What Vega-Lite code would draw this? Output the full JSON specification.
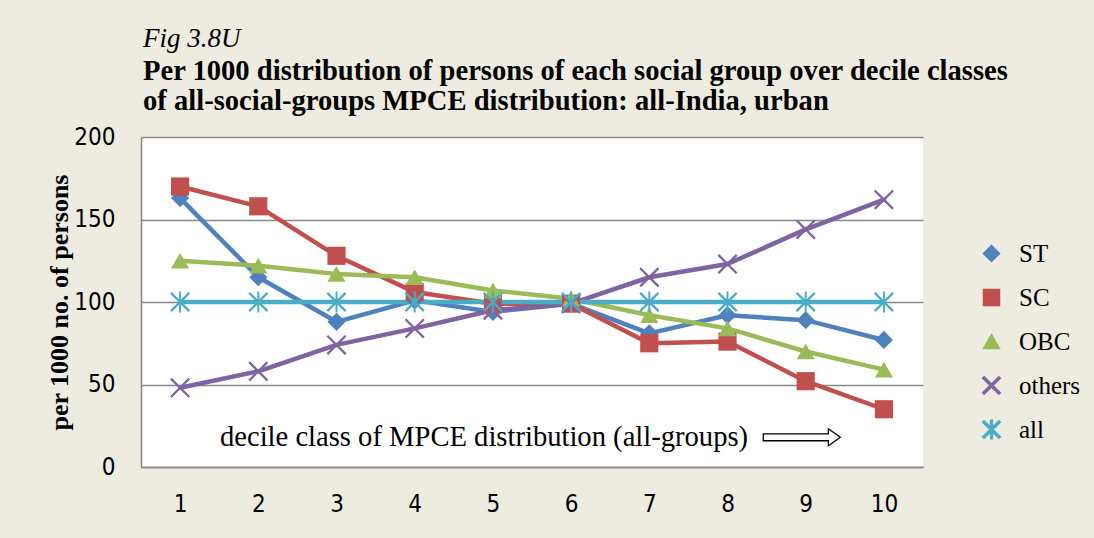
{
  "$schema": "https://vega.github.io/schema/vega-lite/v6.json",
  "width": 782,
  "height": 330,
  "autosize": {"type": "none"},
  "padding": {"left": 141, "top": 137, "right": 171, "bottom": 71},
  "background": "#EEECE1",
  "title": {
    "text": "Fig 3.8U",
    "subtitle": ["Per 1000 distribution of persons of each social group over decile classes", "of all-social-groups MPCE distribution: all-India, urban"],
    "anchor": "start",
    "frame": "group",
    "font": "Liberation Serif",
    "fontSize": 27,
    "fontStyle": "italic",
    "fontWeight": "normal",
    "color": "black",
    "subtitleFont": "Liberation Serif",
    "subtitleFontSize": 28.6,
    "subtitleFontWeight": "bold",
    "subtitleColor": "black",
    "subtitleLineHeight": 30,
    "subtitlePadding": 4,
    "offset": 8,
    "dx": 2
  },
  "config": {
    "view": {"fill": "white", "stroke": null},
    "axis": {
      "labelFont": "Liberation Sans Narrow, DejaVu Sans Condensed",
      "labelFontSize": 24,
      "labelColor": "black",
      "ticks": false,
      "domainColor": "#878787",
      "domainWidth": 1.5,
      "gridColor": "#878787",
      "gridWidth": 1.5
    },
    "legend": {
      "title": null, "orient": "none", "legendX": 838, "legendY": 104,
      "labelFont": "Liberation Serif", "labelFontSize": 25, "labelColor": "black",
      "labelOffset": 15, "rowPadding": 18, "symbolSize": 256, "padding": 0
    }
  },
  "datasets": {
    "series": [
      {"decile": 1, "group": "ST", "value": 163}, {"decile": 2, "group": "ST", "value": 115}, {"decile": 3, "group": "ST", "value": 88}, {"decile": 4, "group": "ST", "value": 101}, {"decile": 5, "group": "ST", "value": 94}, {"decile": 6, "group": "ST", "value": 99}, {"decile": 7, "group": "ST", "value": 81}, {"decile": 8, "group": "ST", "value": 92}, {"decile": 9, "group": "ST", "value": 89}, {"decile": 10, "group": "ST", "value": 77},
      {"decile": 1, "group": "SC", "value": 170}, {"decile": 2, "group": "SC", "value": 158}, {"decile": 3, "group": "SC", "value": 128}, {"decile": 4, "group": "SC", "value": 106}, {"decile": 5, "group": "SC", "value": 99}, {"decile": 6, "group": "SC", "value": 99}, {"decile": 7, "group": "SC", "value": 75}, {"decile": 8, "group": "SC", "value": 76}, {"decile": 9, "group": "SC", "value": 52}, {"decile": 10, "group": "SC", "value": 35},
      {"decile": 1, "group": "OBC", "value": 125}, {"decile": 2, "group": "OBC", "value": 122}, {"decile": 3, "group": "OBC", "value": 117}, {"decile": 4, "group": "OBC", "value": 115}, {"decile": 5, "group": "OBC", "value": 107}, {"decile": 6, "group": "OBC", "value": 102}, {"decile": 7, "group": "OBC", "value": 92}, {"decile": 8, "group": "OBC", "value": 84}, {"decile": 9, "group": "OBC", "value": 70}, {"decile": 10, "group": "OBC", "value": 59},
      {"decile": 1, "group": "others", "value": 48}, {"decile": 2, "group": "others", "value": 58}, {"decile": 3, "group": "others", "value": 74}, {"decile": 4, "group": "others", "value": 84}, {"decile": 5, "group": "others", "value": 95}, {"decile": 6, "group": "others", "value": 99}, {"decile": 7, "group": "others", "value": 115}, {"decile": 8, "group": "others", "value": 123}, {"decile": 9, "group": "others", "value": 144}, {"decile": 10, "group": "others", "value": 162},
      {"decile": 1, "group": "all", "value": 100}, {"decile": 2, "group": "all", "value": 100}, {"decile": 3, "group": "all", "value": 100}, {"decile": 4, "group": "all", "value": 100}, {"decile": 5, "group": "all", "value": 100}, {"decile": 6, "group": "all", "value": 100}, {"decile": 7, "group": "all", "value": 100}, {"decile": 8, "group": "all", "value": 100}, {"decile": 9, "group": "all", "value": 100}, {"decile": 10, "group": "all", "value": 100}
    ]
  },
  "layer": [
    {
      "data": {"name": "series"},
      "mark": {"type": "line", "strokeWidth": 4.5, "strokeCap": "round", "strokeJoin": "round"},
      "encoding": {
        "x": {"field": "decile", "type": "quantitative", "scale": {"domain": [0.5, 10.5], "nice": false, "zero": false},
              "axis": {"values": [1,2,3,4,5,6,7,8,9,10], "title": null, "grid": false, "labelPadding": 25, "format": "d"}},
        "y": {"field": "value", "type": "quantitative", "scale": {"domain": [0, 200], "nice": false},
              "axis": {"values": [0, 50, 100, 150, 200], "title": "per 1000 no. of persons", "titleFont": "Liberation Serif", "titleFontSize": 26, "titleFontWeight": "bold", "titleColor": "black", "titlePadding": 1, "labelPadding": 26, "grid": true}},
        "color": {"field": "group", "type": "nominal",
                  "scale": {"domain": ["ST", "SC", "OBC", "others", "all"], "range": ["#4F81BD", "#C0504D", "#9BBB59", "#8064A2", "#4BACC6"]}}
      }
    },
    {
      "data": {"name": "series"},
      "mark": {"type": "point", "filled": true, "opacity": 1, "size": 330},
      "encoding": {
        "x": {"field": "decile", "type": "quantitative"},
        "y": {"field": "value", "type": "quantitative"},
        "color": {"field": "group", "type": "nominal",
                  "legend": {
                    "encode": {"symbols": {
                      "shape": {"value": {"expr": "datum.value === 'ST' ? 'M-3.4,-0.3H3.4V0.3H-3.4ZM0,-1L1,0L0,1L-1,0Z' : datum.value === 'SC' ? 'M-3.4,-0.3H3.4V0.3H-3.4ZM-1.05,-1.05H1.05V1.05H-1.05Z' : datum.value === 'OBC' ? 'M-3.4,-0.3H3.4V0.3H-3.4ZM0,-1L1.1,0.85L-1.1,0.85Z' : datum.value === 'others' ? 'M-3.4,-0.3H3.4V0.3H-3.4ZM-1,-0.82L-0.82,-1L1,0.82L0.82,1ZM1,-0.82L-0.82,1L-1,0.82L0.82,-1Z' : 'M-3.4,-0.3H3.4V0.3H-3.4ZM-1,-0.82L-0.82,-1L1,0.82L0.82,1ZM1,-0.82L-0.82,1L-1,0.82L0.82,-1ZM-0.12,-1.1H0.12V1.1H-0.12Z'"}},
                      "strokeWidth": {"value": 0},
                      "opacity": {"value": 1}
                    }}
                  }},
        "shape": {"field": "group", "type": "nominal",
                  "scale": {"domain": ["ST", "SC", "OBC", "others", "all"],
                            "range": ["diamond", "square", "triangle-up",
                                      "M-1.1,-0.92L-0.92,-1.1L1.1,0.92L0.92,1.1ZM1.1,-0.92L-0.92,1.1L-1.1,0.92L0.92,-1.1Z",
                                      "M-1.1,-0.92L-0.92,-1.1L1.1,0.92L0.92,1.1ZM1.1,-0.92L-0.92,1.1L-1.1,0.92L0.92,-1.1ZM-0.11,-1.15H0.11V1.15H-0.11Z"]},
                  "legend": null}
      }
    },
    {
      "data": {"values": [{"x": 1.51, "y": 18, "label": "decile class of MPCE distribution (all-groups)"}]},
      "mark": {"type": "text", "align": "left", "baseline": "middle", "font": "Liberation Serif", "fontSize": 28.6, "color": "black"},
      "encoding": {
        "x": {"field": "x", "type": "quantitative"},
        "y": {"field": "y", "type": "quantitative"},
        "text": {"field": "label"}
      }
    },
    {
      "data": {"values": [{"x": 8.95, "y": 18}]},
      "mark": {"type": "point", "filled": false, "fill": "white", "stroke": "black", "strokeWidth": 1.3, "opacity": 1, "size": 5929,
               "shape": "M-1,-0.09H0.69V-0.22L1,0L0.69,0.22V0.09H-1Z"},
      "encoding": {
        "x": {"field": "x", "type": "quantitative"},
        "y": {"field": "y", "type": "quantitative"}
      }
    }
  ]
}
